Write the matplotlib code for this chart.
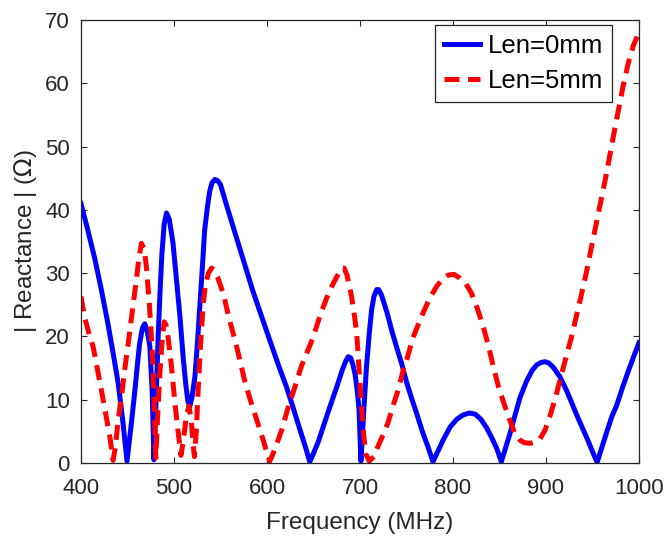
import matplotlib
matplotlib.use("Agg")
import matplotlib.pyplot as plt

plt.rcParams['font.family'] = ['Liberation Sans', 'DejaVu Sans']
plt.rcParams['mathtext.fontset'] = 'dejavusans'

# Len = 0 mm
freq_0mm = [400, 407, 415, 422, 429, 435, 440, 445, 449.5, 454, 458, 461, 463, 466, 468.5,
            471, 474, 476.5, 478.5, 481, 483, 485, 487, 489.5, 492, 495, 499, 503, 506.5,
            510, 513, 515, 517, 519.5, 522.5, 525, 528, 531, 533, 536, 538.5, 541, 544, 547,
            550, 556, 562, 567, 575, 585, 595, 603, 612, 621, 628, 636, 641, 646, 650, 655,
            660, 667, 675, 681, 685, 687.5, 690, 692.5, 695, 697, 699, 700, 701, 703, 705,
            707, 710, 712.5, 715, 718, 720, 723, 726, 729, 734, 740, 745, 750, 756, 761, 767,
            773, 778.5, 783, 790, 797, 804, 811, 818, 824, 830, 836, 842, 847, 852, 857, 862,
            867, 872, 879, 885, 890, 895, 899, 903, 908, 915, 922, 928, 933, 939, 945, 950,
            955, 960, 966, 971, 976, 982, 988, 994, 1000]
react_0mm = [41.0, 37.0, 32.2, 27.3, 22.0, 17.0, 12.6, 6.6, 0.3, 6.0, 11.5, 16.0, 18.8, 21.3, 22.0,
             21.0, 18.5, 11.5, 0.5, 11.0, 20.0, 27.0, 33.0, 37.8, 39.5, 38.5, 34.7, 28.5, 23.0,
             16.5, 12.0, 9.8, 8.9, 10.5, 13.6, 18.5, 25.2, 32.0, 36.8, 40.5, 43.0, 44.3, 44.8, 44.6,
             44.0, 41.0, 38.1, 35.7, 31.9, 27.1, 22.8, 19.4, 15.6, 12.0, 8.8, 5.0, 2.7, 0.2, 1.5, 3.3,
             5.5, 8.6, 12.0, 14.7, 16.2, 16.8, 16.6, 15.5, 13.8, 11.5, 8.4, 4.5, 0.3, 5.5, 10.5,
             15.2, 20.5, 24.2, 26.3, 27.4, 27.4, 26.6, 25.2, 23.8, 21.0, 18.0, 15.6, 12.8, 10.0, 7.8, 5.0,
             2.6, 0.2, 1.6, 3.8, 5.7, 6.9, 7.6, 7.9, 7.7, 6.9, 5.6, 3.9, 2.3, 0.2, 2.6, 5.0,
             7.7, 10.3, 12.9, 14.6, 15.5, 15.9, 16.0, 15.8, 15.1, 13.6, 11.5, 9.4, 7.6, 5.6, 3.6, 1.8,
             0.1, 2.4, 5.2, 7.4, 9.1, 11.8, 14.3, 16.7, 19.0]

# Len = 5 mm
freq_5mm = [400, 404, 408, 413, 418, 422, 427, 431, 434.5, 437, 440, 444, 447, 450, 454, 457,
            459.5, 462, 465, 468, 470, 473.5, 477, 479, 480.5, 482, 485, 487.5, 489.5, 491.5,
            494, 497.5, 501, 504, 507.5, 510, 513, 516, 518.5, 520.5, 522, 524, 526, 528, 531.5,
            534, 537, 540.5, 543, 547, 553, 559, 565.6, 571, 576, 582, 589, 596, 601, 603, 606,
            610, 615.8, 622, 630, 637, 644, 650, 657, 664, 670, 675, 680, 683, 686, 688.5, 691,
            694, 696.5, 698.5, 700, 702, 703.5, 706, 710, 715, 719, 725, 730, 735, 741, 746,
            751.6, 757, 763, 768, 775, 782, 788, 795, 801, 807.5, 814, 820, 826, 832.6, 838,
            843.4, 849, 856, 861, 866.7, 872, 877, 882.8, 888, 893.5, 899, 904, 910, 915, 921,
            927.6, 933, 938.4, 944, 949, 955, 960, 965, 969, 974, 978, 983, 988.5, 994, 1000]
react_5mm = [26.3, 23.0, 20.8, 18.4, 14.6, 11.5, 7.4, 4.2, 0.4, 2.5, 6.8, 11.0, 14.7, 18.0, 22.6, 26.0,
             28.9, 32.0, 34.7, 33.8, 31.5, 25.2, 16.8, 8.0, 0.8, 6.0, 14.5, 19.8, 22.3, 21.8,
             19.5, 15.0, 9.5, 5.5, 1.2, 3.5, 7.0, 9.0, 7.0, 3.0, 1.0, 5.0, 11.5, 17.4, 25.2,
             28.3, 30.0, 30.8, 30.5, 29.3, 26.8, 23.0, 19.4, 16.2, 13.0, 10.0, 6.8, 3.6, 1.0, 0.3, 1.3,
             2.8, 5.2, 8.4, 12.0, 15.3, 17.8, 20.0, 23.3, 26.0, 28.0, 29.4, 30.8, 30.8, 29.7, 28.0, 26.3,
             23.3, 20.5, 16.0, 12.6, 8.5, 5.2, 1.5, 0.3, 1.0, 2.5, 4.5, 6.3, 8.8, 11.5, 14.4,
             17.0, 19.8, 22.0, 23.8, 26.0, 27.8, 29.0, 29.7, 29.8, 29.2, 28.3, 26.8, 24.5, 21.5, 18.6,
             15.2, 12.0, 8.9, 6.8, 4.6, 3.6, 3.2, 3.1, 3.3, 3.8, 5.2, 7.3, 10.2, 13.1, 16.4,
             20.0, 23.4, 26.8, 30.5, 34.2, 38.5, 42.0, 45.7, 48.9, 52.8, 55.8, 59.6, 63.2, 66.0, 68.0]

x_ticks = [400, 500, 600, 700, 800, 900, 1000]
y_ticks = [0, 10, 20, 30, 40, 50, 60, 70]
series_labels = ['Len=0mm', 'Len=5mm']

fig = plt.figure(figsize=(6.67, 5.42), dpi=100)
ax = fig.add_axes([0.1214, 0.1458, 0.8366, 0.8173])

ink = '#262626'
ax.plot(freq_0mm, react_0mm, color='#0000ff', lw=3.6, solid_joinstyle='round',
        label=series_labels[0])
ax.plot(freq_5mm, react_5mm, color='#ff0000', lw=3.6, linestyle=(0, (3.0, 1.7)),
        label=series_labels[1])

ax.set_xlim(400, 1000)
ax.set_ylim(0, 70)
ax.set_xticks(x_ticks)
ax.set_yticks(y_ticks)
ax.tick_params(direction='in', length=4, width=0.8, top=True, right=True,
               labelsize=16, colors=ink)
ax.tick_params(axis='x', pad=11)
ax.tick_params(axis='y', pad=8)
for sp in ax.spines.values():
    sp.set_color(ink)
    sp.set_linewidth(0.9)

ax.set_xlabel('Frequency (MHz)', fontsize=17.5, color=ink, labelpad=9)
ax.set_ylabel(r'| Reactance | ($\mathit{\Omega}$)', fontsize=17.5, color=ink, labelpad=4)

leg = ax.legend(loc='upper right', bbox_to_anchor=(0.952, 0.989), borderaxespad=0,
                fontsize=18.5, handlelength=1.4, handletextpad=0.3, borderpad=0.35,
                labelspacing=0.42, fancybox=False, framealpha=1)
leg.get_frame().set_edgecolor(ink)
leg.get_frame().set_linewidth(0.9)

fig.savefig('out.png', dpi=100)
